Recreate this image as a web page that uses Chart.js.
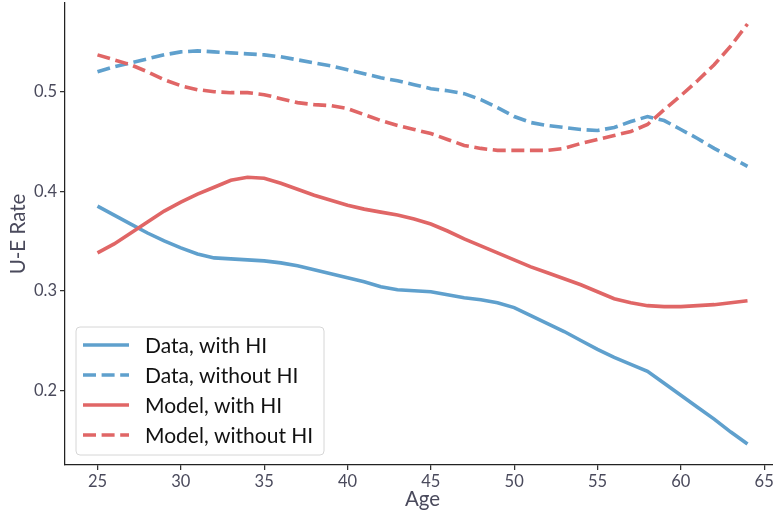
<!DOCTYPE html>
<html>
<head>
<meta charset="utf-8">
<title>U-E Rate by Age</title>
<script src="https://cdn.jsdelivr.net/npm/chart.js@4/dist/chart.umd.min.js"></script>
<style>
  html, body { margin: 0; padding: 0; background: #ffffff; overflow: hidden; }
  #wrap { width: 780px; height: 516px; }
  canvas { display: block; }
</style>
</head>
<body>
<div id="wrap"><canvas id="chart" width="780" height="516"></canvas></div>
<script>
// Age grid (one value per year of age)
const ages = [];
for (let a = 25; a <= 64; a++) ages.push(a);

// U-E transition rates by age
const dataWithHI = [
  0.385, 0.376, 0.367, 0.358, 0.350, 0.343, 0.337, 0.333, 0.332, 0.331,
  0.330, 0.328, 0.325, 0.321, 0.317, 0.313, 0.309, 0.304, 0.301, 0.300,
  0.299, 0.296, 0.293, 0.291, 0.288, 0.283, 0.275, 0.267, 0.259, 0.250,
  0.241, 0.233, 0.226, 0.219, 0.207, 0.195, 0.183, 0.171, 0.158, 0.146
];
const dataWithoutHI = [
  0.520, 0.525, 0.529, 0.533, 0.537, 0.540, 0.541, 0.540, 0.539, 0.538,
  0.537, 0.535, 0.532, 0.529, 0.526, 0.522, 0.518, 0.514, 0.511, 0.507,
  0.503, 0.501, 0.498, 0.492, 0.484, 0.475, 0.469, 0.466, 0.464, 0.462,
  0.461, 0.464, 0.470, 0.475, 0.471, 0.462, 0.453, 0.443, 0.434, 0.425
];
const modelWithHI = [
  0.338, 0.347, 0.358, 0.369, 0.380, 0.389, 0.397, 0.404, 0.411, 0.414,
  0.413, 0.408, 0.402, 0.396, 0.391, 0.386, 0.382, 0.379, 0.376, 0.372,
  0.367, 0.360, 0.352, 0.345, 0.338, 0.331, 0.324, 0.318, 0.312, 0.306,
  0.299, 0.292, 0.288, 0.285, 0.284, 0.284, 0.285, 0.286, 0.288, 0.290
];
const modelWithoutHI = [
  0.537, 0.532, 0.527, 0.520, 0.512, 0.506, 0.502, 0.500, 0.499, 0.499,
  0.497, 0.493, 0.489, 0.487, 0.486, 0.483, 0.477, 0.471, 0.466, 0.462,
  0.458, 0.452, 0.446, 0.443, 0.441, 0.441, 0.441, 0.441, 0.443, 0.448,
  0.452, 0.456, 0.460, 0.467, 0.482, 0.496, 0.511, 0.527, 0.546, 0.568
];

const seriesLabels = ['Data, with HI', 'Data, without HI', 'Model, with HI', 'Model, without HI'];
const xTicks = [25, 30, 35, 40, 45, 50, 55, 60, 65];
const yTicks = [0.2, 0.3, 0.4, 0.5];

const BLUE = '#5fa0cd';
const RED = '#e06666';
const DASH = [13, 5.6];
const FONT = 'Lato, "DejaVu Sans", sans-serif';

function toPoints(values) {
  return values.map((v, i) => ({ x: ages[i], y: v }));
}

function makeSet(label, values, color, dashed, order) {
  return {
    label: label,
    data: toPoints(values),
    borderColor: color,
    backgroundColor: color,
    borderWidth: 3.6,
    borderDash: dashed ? DASH : [],
    pointRadius: 0,
    pointHoverRadius: 0,
    tension: 0,
    fill: false,
    order: order
  };
}

// Legend framed box drawn in the lower-left of the plot area
const boxLegend = {
  id: 'boxLegend',
  afterDatasetsDraw(chart) {
    const ctx = chart.ctx;
    const x0 = 76, y0 = 327, w = 248, h = 128, r = 4;
    ctx.save();
    ctx.beginPath();
    ctx.moveTo(x0 + r, y0);
    ctx.arcTo(x0 + w, y0, x0 + w, y0 + h, r);
    ctx.arcTo(x0 + w, y0 + h, x0, y0 + h, r);
    ctx.arcTo(x0, y0 + h, x0, y0, r);
    ctx.arcTo(x0, y0, x0 + w, y0, r);
    ctx.closePath();
    ctx.fillStyle = 'rgba(255,255,255,0.8)';
    ctx.fill();
    ctx.strokeStyle = '#d6d6d6';
    ctx.lineWidth = 1;
    ctx.stroke();

    chart.data.datasets.forEach((ds, i) => {
      const cy = 345 + i * 30;
      ctx.beginPath();
      ctx.setLineDash(ds.borderDash || []);
      ctx.lineDashOffset = 0;
      ctx.strokeStyle = ds.borderColor;
      ctx.lineWidth = ds.borderWidth;
      ctx.lineCap = 'butt';
      ctx.moveTo(83, cy);
      ctx.lineTo(129, cy);
      ctx.stroke();
      ctx.setLineDash([]);
      ctx.fillStyle = '#111111';
      ctx.font = '21px ' + FONT;
      ctx.textBaseline = 'middle';
      ctx.textAlign = 'left';
      ctx.fillText(ds.label, 145, cy + 1);
    });
    ctx.restore();
  }
};

const ctx = document.getElementById('chart').getContext('2d');
new Chart(ctx, {
  type: 'line',
  data: {
    datasets: [
      makeSet(seriesLabels[0], dataWithHI, BLUE, false, 4),
      makeSet(seriesLabels[1], dataWithoutHI, BLUE, true, 3),
      makeSet(seriesLabels[2], modelWithHI, RED, false, 2),
      makeSet(seriesLabels[3], modelWithoutHI, RED, true, 1)
    ]
  },
  options: {
    responsive: false,
    animation: false,
    events: [],
    layout: { padding: { top: 3, right: 0, bottom: 0, left: 0 } },
    plugins: {
      legend: { display: false },
      tooltip: { enabled: false }
    },
    scales: {
      x: {
        type: 'linear',
        min: 23.05,
        max: 65.95,
        afterBuildTicks(scale) { scale.ticks = xTicks.map(v => ({ value: v })); },
        afterFit(scale) { scale.height = 51; },
        border: { display: true, color: '#222222', width: 1.25 },
        grid: { display: true, drawOnChartArea: false, drawTicks: true, tickLength: 5, color: '#333333', lineWidth: 1.25 },
        ticks: { color: '#4a4a5c', font: { family: FONT, size: 16.5 }, padding: 2, maxRotation: 0, autoSkip: false },
        title: { display: true, text: 'Age', color: '#4a4a5c', font: { family: FONT, size: 20.5 }, padding: { top: 0, bottom: 4 } }
      },
      y: {
        type: 'linear',
        min: 0.1249,
        max: 0.5891,
        afterBuildTicks(scale) { scale.ticks = yTicks.map(v => ({ value: v })); },
        afterFit(scale) { scale.width = 65; scale.paddingTop = 0; scale.paddingBottom = 0; },
        border: { display: true, color: '#222222', width: 1.25 },
        grid: { display: true, drawOnChartArea: false, drawTicks: true, tickLength: 5, color: '#333333', lineWidth: 1.25 },
        ticks: { color: '#4a4a5c', font: { family: FONT, size: 16.5 }, padding: 3, autoSkip: false, callback: v => v.toFixed(1) },
        title: { display: true, text: 'U-E Rate', color: '#4a4a5c', font: { family: FONT, size: 20.5 }, padding: { top: 6, bottom: 0 } }
      }
    }
  },
  plugins: [boxLegend]
});
</script>
</body>
</html>
